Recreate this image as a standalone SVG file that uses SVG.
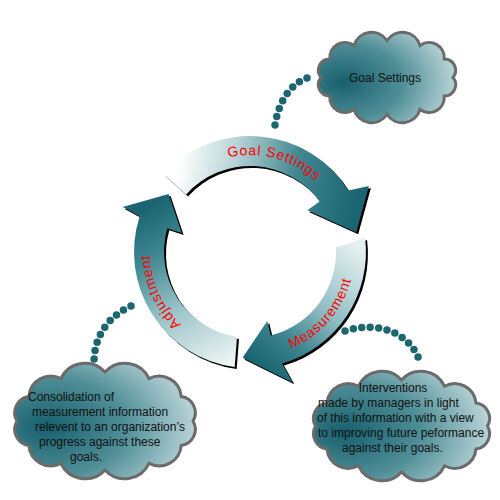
<svg xmlns="http://www.w3.org/2000/svg" xmlns:xlink="http://www.w3.org/1999/xlink" width="500" height="500" viewBox="0 0 500 500">
<style>
.cloud{stroke:#6b6b6b;stroke-width:3;fill:url(#cloudGrad)}
.ctext{font-family:"Liberation Sans",Arial,sans-serif;font-size:12px;fill:#111}
.atext{font-family:"Liberation Sans",Arial,sans-serif;font-size:14px;fill:#ff0000;letter-spacing:0.8px}
.dots{fill:none;stroke:#1d6670;stroke-width:7.5;stroke-linecap:round;stroke-dasharray:0 8.5}
.shadow{fill:#000}
</style>
<defs>
<radialGradient id="cloudGrad" cx="0.18" cy="0.55" r="0.95" fx="0.18" fy="0.55">
<stop offset="0" stop-color="#17606d"/>
<stop offset="0.45" stop-color="#4f8e97"/>
<stop offset="1" stop-color="#dbeaec"/>
</radialGradient>
<linearGradient id="gGoal" gradientUnits="userSpaceOnUse" x1="175" y1="185" x2="355" y2="215">
<stop offset="0" stop-color="#ffffff"/>
<stop offset="0.3" stop-color="#b7d3d6"/>
<stop offset="0.65" stop-color="#3f8690"/>
<stop offset="1" stop-color="#1a6571"/>
</linearGradient>
<linearGradient id="gMeas" gradientUnits="userSpaceOnUse" x1="352" y1="245" x2="255" y2="362">
<stop offset="0" stop-color="#e4eff0"/>
<stop offset="0.45" stop-color="#8fbec3"/>
<stop offset="0.75" stop-color="#3b838d"/>
<stop offset="1" stop-color="#1a6571"/>
</linearGradient>
<linearGradient id="gAdj" gradientUnits="userSpaceOnUse" x1="236" y1="360" x2="150" y2="205">
<stop offset="0" stop-color="#eef5f5"/>
<stop offset="0.4" stop-color="#9cc5c9"/>
<stop offset="0.75" stop-color="#3d858f"/>
<stop offset="1" stop-color="#1a6571"/>
</linearGradient>
<path id="arrowGoal" d="M163.8,174.4 A116,116 0 0 1 348.4,190.5 L368.9,186.1 L356.2,232.3 L307.4,210.3 L319.6,201.4 A86,86 0 0 0 186.1,194.5 Z"/>
<path id="arrowMeas" d="M365.1,237.9 A116,116 0 0 1 282.0,363.5 L292.3,382.3 L242.6,357.7 L267.2,320.9 L270.8,335.4 A86,86 0 0 0 335.9,247.5 Z"/>
<path id="arrowAdj" d="M234.7,367.0 A116,116 0 0 1 139.7,216.2 L122.7,206.9 L168.6,193.9 L181.6,232.9 L167.3,228.3 A86,86 0 0 0 237.0,337.0 Z"/>
<path id="tpGoal" d="M209.0,164.1 A97,97 0 0 1 329.5,196.4"/>
<path id="tpMeas" d="M268.2,355.4 A105,105 0 0 0 354.9,255.7"/>
<path id="tpAdj" d="M206.2,341.9 A100,100 0 0 1 153.9,224.4"/>
</defs>

<g id="connectors">
<path class="dots" d="M307,78 C291,84 279,100 275,125"/>
<path class="dots" d="M345,331 C380,320 411,334 420,362"/>
<path class="dots" d="M131,306 C105,318 94,340 94,362"/>
</g>

<g id="cloud-goal-settings">
<path class="cloud" d="M321,77.5 A11.3,11.3 0 0 1 329.8,59 A15.2,15.2 0 0 1 354,45.5 A18.4,18.4 0 0 1 387,40.5 A18.4,18.4 0 0 1 420,45.5 A15.2,15.2 0 0 1 444.2,59 A11.3,11.3 0 0 1 453,77.5 A11.3,11.3 0 0 1 444.2,96 A15.2,15.2 0 0 1 420,109.5 A18.4,18.4 0 0 1 387,114.5 A18.4,18.4 0 0 1 354,109.5 A15.2,15.2 0 0 1 329.8,96 A11.3,11.3 0 0 1 321,77.5 Z"/>
<text class="ctext" x="385" y="82" text-anchor="middle">Goal Settings</text>
</g>

<g id="cloud-consolidation">
<path class="cloud" d="M17,421 A16.3,16.3 0 0 1 28.8,396.5 A22.1,22.1 0 0 1 61,378.6 A26.7,26.7 0 0 1 105,372 A26.7,26.7 0 0 1 149,378.6 A22.1,22.1 0 0 1 181.2,396.5 A16.3,16.3 0 0 1 193,421 A16.3,16.3 0 0 1 181.2,445.5 A22.1,22.1 0 0 1 149,463.4 A26.7,26.7 0 0 1 105,470 A26.7,26.7 0 0 1 61,463.4 A22.1,22.1 0 0 1 28.8,445.5 A16.3,16.3 0 0 1 17,421 Z"/>
<text class="ctext"><tspan x="28" y="401">Consolidation of</tspan><tspan x="32" y="416">measurement information</tspan><tspan x="35" y="431">relevent to an organization’s</tspan><tspan x="39" y="446">progress against these</tspan><tspan x="70" y="461">goals.</tspan></text>
</g>

<g id="cloud-interventions">
<path class="cloud" d="M315.5,426 A15.4,15.4 0 0 1 327,403 A21.4,21.4 0 0 1 358.5,386.2 A26,26 0 0 1 401.5,380 A26,26 0 0 1 444.5,386.2 A21.4,21.4 0 0 1 476,403 A15.4,15.4 0 0 1 487.5,426 A15.4,15.4 0 0 1 476,449 A21.4,21.4 0 0 1 444.5,465.8 A26,26 0 0 1 401.5,472 A26,26 0 0 1 358.5,465.8 A21.4,21.4 0 0 1 327,449 A15.4,15.4 0 0 1 315.5,426 Z"/>
<text class="ctext"><tspan x="393" y="392" text-anchor="middle">Interventions</tspan><tspan x="318" y="407">made by managers in light</tspan><tspan x="317" y="422">of this information with a view</tspan><tspan x="318" y="437">to improving future peformance</tspan><tspan x="342" y="452">against their goals.</tspan></text>
</g>

<g id="arrow-goal-settings">
<use xlink:href="#arrowGoal" href="#arrowGoal" class="shadow" transform="translate(2,2)"/>
<use xlink:href="#arrowGoal" href="#arrowGoal" fill="url(#gGoal)"/>
<text class="atext"><textPath xlink:href="#tpGoal" href="#tpGoal" startOffset="50%" text-anchor="middle">Goal Settings</textPath></text>
</g>

<g id="arrow-measurement">
<use xlink:href="#arrowMeas" href="#arrowMeas" class="shadow" transform="translate(2,2)"/>
<use xlink:href="#arrowMeas" href="#arrowMeas" fill="url(#gMeas)"/>
<text class="atext"><textPath xlink:href="#tpMeas" href="#tpMeas" startOffset="50%" text-anchor="middle">Measurement</textPath></text>
</g>

<g id="arrow-adjustment">
<use xlink:href="#arrowAdj" href="#arrowAdj" class="shadow" transform="translate(2,2)"/>
<use xlink:href="#arrowAdj" href="#arrowAdj" fill="url(#gAdj)"/>
<text class="atext"><textPath xlink:href="#tpAdj" href="#tpAdj" startOffset="50%" text-anchor="middle">Adjustment</textPath></text>
</g>
</svg>
